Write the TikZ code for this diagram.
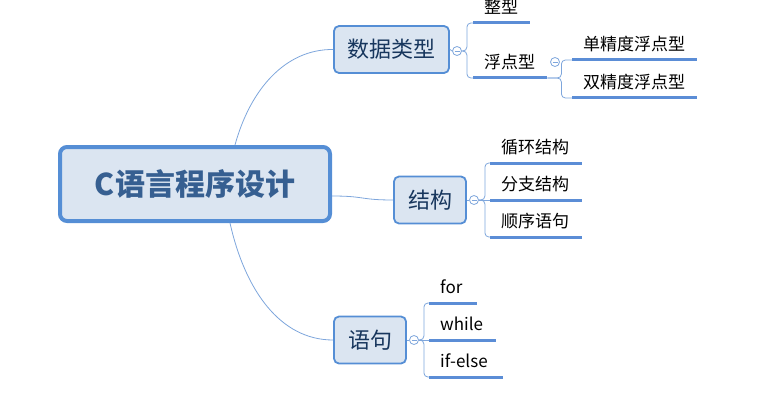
\documentclass[tikz,border=0pt]{standalone}
\usepackage{fontspec}
\setmainfont{Noto Sans CJK SC}
\usepackage{tikz}
\definecolor{boxfill}{HTML}{DBE5F1}
\definecolor{boxline}{HTML}{558ED5}
\definecolor{rootText}{HTML}{365F91}
\definecolor{topicText}{HTML}{17365D}
\definecolor{barblue}{HTML}{5B8DD6}
\definecolor{linkblue}{HTML}{7EA6DC}

\begin{document}
\begin{tikzpicture}[x=1pt, y=-1pt,
  root/.style={draw=boxline, line width=4pt, fill=boxfill, rounded corners=7pt, minimum width=270pt, minimum height=74pt, text=rootText, font=\fontsize{30}{30}\selectfont\bfseries},
  topic/.style={draw=boxline, line width=1.8pt, fill=boxfill, rounded corners=5pt, minimum height=47pt, inner xsep=0pt, text=topicText, font=\fontsize{22}{22}\selectfont},
  leaf/.style={anchor=south west, inner xsep=11pt, inner ysep=0pt, text width=#1, align=left, text height=13pt, text depth=9pt, font=\fontsize{17}{17}\selectfont},
  fold/.style={circle, draw=linkblue, fill=white, line width=0.8pt, minimum size=9pt, inner sep=0pt,
    path picture={\draw[linkblue, line width=0.8pt] ([xshift=-2.5pt]path picture bounding box.center) -- ([xshift=2.5pt]path picture bounding box.center);}},
  link/.style={linkblue, line width=0.8pt},
  fork/.style={link, rounded corners=4pt},
  bar/.style={barblue, line width=3pt}]
  \useasboundingbox (0,0) rectangle (781,409);

  % central topic and main topics
  \node[root] (root) at (195,184) {C语言程序设计};
  \node[topic, minimum width=115pt] (data) at (391.5,49.5) {数据类型};
  \node[topic, minimum width=72pt] (struct) at (430,200) {结构};
  \node[topic, minimum width=72pt] (stmt) at (370,340) {语句};

  % collapse buttons
  \node[fold] (fData) at (457,51) {};
  \node[fold] (fStruct) at (474,200) {};
  \node[fold] (fStmt) at (414,340) {};
  \node[fold] (fFloat) at (555,62) {};

  % sub topics, placed at the start of their bar
  \node[leaf=35pt] (int) at (473,23) {整型};
  \node[leaf=52pt] (float) at (473,78) {浮点型};
  \node[leaf=103pt] (single) at (572,60) {单精度浮点型};
  \node[leaf=103pt] (double) at (572,98) {双精度浮点型};
  \node[leaf=70pt] (loop) at (490,163) {循环结构};
  \node[leaf=70pt] (branch) at (490,200) {分支结构};
  \node[leaf=70pt] (seq) at (490,237) {顺序语句};
  \node[leaf=26pt] (for) at (429,303) {for};
  \node[leaf=45pt] (while) at (429,340) {while};
  \node[leaf=52pt] (ifelse) at (429,377) {if-else};

  \foreach \n in {int,float,single,double,loop,branch,seq,for,while,ifelse}
    \draw[bar] (\n.south west) -- (\n.south east);

  \draw[link] ([xshift=40pt]root.north) .. controls (250,90) and (285,49) .. (data.west);
  \draw[link] ([yshift=-12pt]root.east) .. controls (365,196) and (360,200) .. (struct.west);
  \draw[link] ([xshift=35pt]root.south) .. controls (245,290) and (280,340) .. (stmt.west);

  \draw[link] (data.east) -- (fData.west);
  \draw[link] (struct.east) -- (fStruct.west);
  \draw[link] (stmt.east) -- (fStmt.west);

  \draw[fork] (fData.east) -- ++(5,0) |- (int.south west);
  \draw[fork] (fData.east) -- ++(5,0) |- (float.south west);
  \draw[fork] (float.south east) -- ++(14,0) |- (single.south west);
  \draw[fork] (float.south east) -- ++(14,0) |- (double.south west);

  \draw[fork] (fStruct.east) -- ++(6,0) |- (loop.south west);
  \draw[link] (fStruct.east) -- (branch.south west);
  \draw[fork] (fStruct.east) -- ++(6,0) |- (seq.south west);

  \draw[fork] (fStmt.east) -- ++(5,0) |- (for.south west);
  \draw[link] (fStmt.east) -- (while.south west);
  \draw[fork] (fStmt.east) -- ++(5,0) |- (ifelse.south west);
\end{tikzpicture}
\end{document}
